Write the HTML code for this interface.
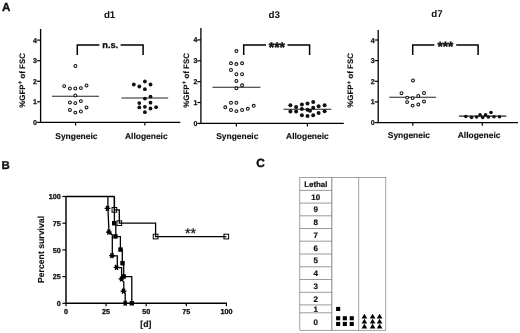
<!DOCTYPE html>
<html><head><meta charset="utf-8"><title>Figure</title>
<style>
html,body{margin:0;padding:0;background:#fff;}
body{width:520px;height:333px;overflow:hidden;font-family:"Liberation Sans",sans-serif;}
svg{display:block;filter:blur(0.3px);}
text{fill:#111;text-rendering:geometricPrecision;}
</style></head><body>
<svg width="520" height="333" viewBox="0 0 520 333">
<rect width="520" height="333" fill="#fff"/>
<path d="M40.6 29V122.4H180.3" fill="none" stroke="#000" stroke-width="1.3"/><path d="M37.1 122.4H40.6" stroke="#000" stroke-width="1.2"/><text x="37.0" y="124.9" text-anchor="end" font-size="7" font-weight="bold" stroke="#111" stroke-width="0.25" font-family="Liberation Sans, sans-serif">0</text><path d="M37.1 101.8H40.6" stroke="#000" stroke-width="1.2"/><text x="37.0" y="104.3" text-anchor="end" font-size="7" font-weight="bold" stroke="#111" stroke-width="0.25" font-family="Liberation Sans, sans-serif">1</text><path d="M37.1 81.3H40.6" stroke="#000" stroke-width="1.2"/><text x="37.0" y="83.8" text-anchor="end" font-size="7" font-weight="bold" stroke="#111" stroke-width="0.25" font-family="Liberation Sans, sans-serif">2</text><path d="M37.1 60.7H40.6" stroke="#000" stroke-width="1.2"/><text x="37.0" y="63.2" text-anchor="end" font-size="7" font-weight="bold" stroke="#111" stroke-width="0.25" font-family="Liberation Sans, sans-serif">3</text><path d="M37.1 40.1H40.6" stroke="#000" stroke-width="1.2"/><text x="37.0" y="42.6" text-anchor="end" font-size="7" font-weight="bold" stroke="#111" stroke-width="0.25" font-family="Liberation Sans, sans-serif">4</text><path d="M75.6 122.4V125.60000000000001" stroke="#000" stroke-width="1.2"/><path d="M144.9 122.4V125.60000000000001" stroke="#000" stroke-width="1.2"/><text x="76.4" y="139.1" text-anchor="middle" font-size="8.45" font-weight="bold" stroke="#111" stroke-width="0.15" font-family="Liberation Sans, sans-serif">Syngeneic</text><text x="146.3" y="139.1" text-anchor="middle" font-size="8.45" font-weight="bold" stroke="#111" stroke-width="0.15" font-family="Liberation Sans, sans-serif">Allogeneic</text><text x="109.6" y="18.2" text-anchor="middle" font-size="9.8" font-weight="bold" font-family="Liberation Sans, sans-serif">d1</text><text transform="translate(24.6 80.4) rotate(-90)" text-anchor="middle" font-size="7.9" font-weight="bold" stroke="#111" stroke-width="0.12" font-family="Liberation Sans, sans-serif">%GFP<tspan dy="-2.6" font-size="6.2">+</tspan><tspan dy="2.6"> of FSC</tspan></text><path d="M77.3 55V44.9H99.4M120.6 44.9H143.1V55" fill="none" stroke="#000" stroke-width="1.5"/><text x="110.2" y="47.7" text-anchor="middle" font-size="9.2" font-weight="bold" stroke="#111" stroke-width="0.3" font-family="Liberation Sans, sans-serif">n.s.</text><path d="M52 96.2H98.9" stroke="#222" stroke-width="1.1"/><circle cx="75.4" cy="66" r="1.45" fill="#fff" stroke="#111" stroke-width="1.05"/><circle cx="64.2" cy="86.1" r="1.45" fill="#fff" stroke="#111" stroke-width="1.05"/><circle cx="69.9" cy="88.5" r="1.45" fill="#fff" stroke="#111" stroke-width="1.05"/><circle cx="75.3" cy="88.5" r="1.45" fill="#fff" stroke="#111" stroke-width="1.05"/><circle cx="80.9" cy="88.1" r="1.45" fill="#fff" stroke="#111" stroke-width="1.05"/><circle cx="86.5" cy="85.4" r="1.45" fill="#fff" stroke="#111" stroke-width="1.05"/><circle cx="75.3" cy="95.5" r="1.45" fill="#fff" stroke="#111" stroke-width="1.05"/><circle cx="69.9" cy="102.4" r="1.45" fill="#fff" stroke="#111" stroke-width="1.05"/><circle cx="75.3" cy="103.1" r="1.45" fill="#fff" stroke="#111" stroke-width="1.05"/><circle cx="80.9" cy="101.1" r="1.45" fill="#fff" stroke="#111" stroke-width="1.05"/><circle cx="86.5" cy="107.4" r="1.45" fill="#fff" stroke="#111" stroke-width="1.05"/><circle cx="69.9" cy="109.9" r="1.45" fill="#fff" stroke="#111" stroke-width="1.05"/><circle cx="75.3" cy="112.6" r="1.45" fill="#fff" stroke="#111" stroke-width="1.05"/><circle cx="80.9" cy="111.5" r="1.45" fill="#fff" stroke="#111" stroke-width="1.05"/><path d="M121.4 98H168.2" stroke="#222" stroke-width="1.1"/><circle cx="133.8" cy="84.5" r="1.9" fill="#111"/><circle cx="139.3" cy="86.5" r="1.9" fill="#111"/><circle cx="144.9" cy="81.5" r="1.9" fill="#111"/><circle cx="150.5" cy="84.5" r="1.9" fill="#111"/><circle cx="144.9" cy="89.2" r="1.9" fill="#111"/><circle cx="144.9" cy="98.6" r="1.9" fill="#111"/><circle cx="150.5" cy="96.6" r="1.9" fill="#111"/><circle cx="139.3" cy="103.1" r="1.9" fill="#111"/><circle cx="150.5" cy="102.7" r="1.9" fill="#111"/><circle cx="139.3" cy="107.4" r="1.9" fill="#111"/><circle cx="144.9" cy="106.8" r="1.9" fill="#111"/><circle cx="150.5" cy="108.5" r="1.9" fill="#111"/><circle cx="156.1" cy="107.2" r="1.9" fill="#111"/><circle cx="144.9" cy="112.2" r="1.9" fill="#111"/><path d="M200.9 27.9V123.4H343.8" fill="none" stroke="#000" stroke-width="1.3"/><path d="M197.4 123.4H200.9" stroke="#000" stroke-width="1.2"/><text x="197.3" y="125.9" text-anchor="end" font-size="7" font-weight="bold" stroke="#111" stroke-width="0.25" font-family="Liberation Sans, sans-serif">0</text><path d="M197.4 102.5H200.9" stroke="#000" stroke-width="1.2"/><text x="197.3" y="105.0" text-anchor="end" font-size="7" font-weight="bold" stroke="#111" stroke-width="0.25" font-family="Liberation Sans, sans-serif">1</text><path d="M197.4 81.7H200.9" stroke="#000" stroke-width="1.2"/><text x="197.3" y="84.2" text-anchor="end" font-size="7" font-weight="bold" stroke="#111" stroke-width="0.25" font-family="Liberation Sans, sans-serif">2</text><path d="M197.4 60.8H200.9" stroke="#000" stroke-width="1.2"/><text x="197.3" y="63.3" text-anchor="end" font-size="7" font-weight="bold" stroke="#111" stroke-width="0.25" font-family="Liberation Sans, sans-serif">3</text><path d="M197.4 39.9H200.9" stroke="#000" stroke-width="1.2"/><text x="197.3" y="42.4" text-anchor="end" font-size="7" font-weight="bold" stroke="#111" stroke-width="0.25" font-family="Liberation Sans, sans-serif">4</text><path d="M236.4 123.4V126.60000000000001" stroke="#000" stroke-width="1.2"/><path d="M307.4 123.4V126.60000000000001" stroke="#000" stroke-width="1.2"/><text x="237.3" y="139.2" text-anchor="middle" font-size="8.45" font-weight="bold" stroke="#111" stroke-width="0.15" font-family="Liberation Sans, sans-serif">Syngeneic</text><text x="307.4" y="139.2" text-anchor="middle" font-size="8.45" font-weight="bold" stroke="#111" stroke-width="0.15" font-family="Liberation Sans, sans-serif">Allogeneic</text><text x="274.3" y="18.2" text-anchor="middle" font-size="9.8" font-weight="bold" font-family="Liberation Sans, sans-serif">d3</text><text transform="translate(188.5 80.4) rotate(-90)" text-anchor="middle" font-size="7.9" font-weight="bold" stroke="#111" stroke-width="0.12" font-family="Liberation Sans, sans-serif">%GFP<tspan dy="-2.6" font-size="6.2">+</tspan><tspan dy="2.6"> of FSC</tspan></text><path d="M243.7 55V44.9H266M287.5 44.9H309.6V55" fill="none" stroke="#000" stroke-width="1.5"/><text x="276.9" y="51.7" text-anchor="middle" font-size="13.9" font-weight="bold" stroke="#111" stroke-width="0.45" font-family="Liberation Sans, sans-serif">***</text><path d="M212.5 87.2H260.4" stroke="#222" stroke-width="1.1"/><circle cx="236.4" cy="51.1" r="1.45" fill="#fff" stroke="#111" stroke-width="1.05"/><circle cx="231" cy="63.3" r="1.45" fill="#fff" stroke="#111" stroke-width="1.05"/><circle cx="236.4" cy="64.1" r="1.45" fill="#fff" stroke="#111" stroke-width="1.05"/><circle cx="242.1" cy="63.3" r="1.45" fill="#fff" stroke="#111" stroke-width="1.05"/><circle cx="231" cy="70" r="1.45" fill="#fff" stroke="#111" stroke-width="1.05"/><circle cx="236.4" cy="74.2" r="1.45" fill="#fff" stroke="#111" stroke-width="1.05"/><circle cx="242.1" cy="74.2" r="1.45" fill="#fff" stroke="#111" stroke-width="1.05"/><circle cx="236.4" cy="80.9" r="1.45" fill="#fff" stroke="#111" stroke-width="1.05"/><circle cx="242.1" cy="85.3" r="1.45" fill="#fff" stroke="#111" stroke-width="1.05"/><circle cx="236.4" cy="88.3" r="1.45" fill="#fff" stroke="#111" stroke-width="1.05"/><circle cx="231" cy="102.7" r="1.45" fill="#fff" stroke="#111" stroke-width="1.05"/><circle cx="236.4" cy="102.7" r="1.45" fill="#fff" stroke="#111" stroke-width="1.05"/><circle cx="225.3" cy="107.3" r="1.45" fill="#fff" stroke="#111" stroke-width="1.05"/><circle cx="231" cy="110" r="1.45" fill="#fff" stroke="#111" stroke-width="1.05"/><circle cx="236.4" cy="111.1" r="1.45" fill="#fff" stroke="#111" stroke-width="1.05"/><circle cx="242.1" cy="110" r="1.45" fill="#fff" stroke="#111" stroke-width="1.05"/><circle cx="247.8" cy="108.8" r="1.45" fill="#fff" stroke="#111" stroke-width="1.05"/><circle cx="253.7" cy="105.8" r="1.45" fill="#fff" stroke="#111" stroke-width="1.05"/><path d="M283.5 109.3H331.3" stroke="#222" stroke-width="1.1"/><circle cx="290.4" cy="105.3" r="2.0" fill="#111"/><circle cx="296.1" cy="107.1" r="2.0" fill="#111"/><circle cx="301.9" cy="104.4" r="2.0" fill="#111"/><circle cx="307.5" cy="103.5" r="2.0" fill="#111"/><circle cx="313.2" cy="102.1" r="2.0" fill="#111"/><circle cx="318.6" cy="106.2" r="2.0" fill="#111"/><circle cx="324.6" cy="105.3" r="2.0" fill="#111"/><circle cx="313.2" cy="107.7" r="2.0" fill="#111"/><circle cx="301.9" cy="108.9" r="2.0" fill="#111"/><circle cx="307.5" cy="109.8" r="2.0" fill="#111"/><circle cx="310" cy="110.7" r="2.0" fill="#111"/><circle cx="290.4" cy="111.6" r="2.0" fill="#111"/><circle cx="296.1" cy="111.6" r="2.0" fill="#111"/><circle cx="324.6" cy="111.3" r="2.0" fill="#111"/><circle cx="318.6" cy="113" r="2.0" fill="#111"/><circle cx="301.9" cy="115.2" r="2.0" fill="#111"/><circle cx="307.5" cy="116.1" r="2.0" fill="#111"/><circle cx="313.2" cy="115.2" r="2.0" fill="#111"/><path d="M378.2 30V122.6H518" fill="none" stroke="#000" stroke-width="1.3"/><path d="M374.7 122.6H378.2" stroke="#000" stroke-width="1.2"/><text x="374.59999999999997" y="125.1" text-anchor="end" font-size="7" font-weight="bold" stroke="#111" stroke-width="0.25" font-family="Liberation Sans, sans-serif">0</text><path d="M374.7 101.9H378.2" stroke="#000" stroke-width="1.2"/><text x="374.59999999999997" y="104.4" text-anchor="end" font-size="7" font-weight="bold" stroke="#111" stroke-width="0.25" font-family="Liberation Sans, sans-serif">1</text><path d="M374.7 81.3H378.2" stroke="#000" stroke-width="1.2"/><text x="374.59999999999997" y="83.8" text-anchor="end" font-size="7" font-weight="bold" stroke="#111" stroke-width="0.25" font-family="Liberation Sans, sans-serif">2</text><path d="M374.7 60.6H378.2" stroke="#000" stroke-width="1.2"/><text x="374.59999999999997" y="63.1" text-anchor="end" font-size="7" font-weight="bold" stroke="#111" stroke-width="0.25" font-family="Liberation Sans, sans-serif">3</text><path d="M374.7 40.0H378.2" stroke="#000" stroke-width="1.2"/><text x="374.59999999999997" y="42.5" text-anchor="end" font-size="7" font-weight="bold" stroke="#111" stroke-width="0.25" font-family="Liberation Sans, sans-serif">4</text><path d="M412.8 122.6V125.8" stroke="#000" stroke-width="1.2"/><path d="M482.3 122.6V125.8" stroke="#000" stroke-width="1.2"/><text x="408.9" y="137.9" text-anchor="middle" font-size="8.45" font-weight="bold" stroke="#111" stroke-width="0.15" font-family="Liberation Sans, sans-serif">Syngeneic</text><text x="479.1" y="137.9" text-anchor="middle" font-size="8.45" font-weight="bold" stroke="#111" stroke-width="0.15" font-family="Liberation Sans, sans-serif">Allogeneic</text><text x="436.9" y="17" text-anchor="middle" font-size="9.8" font-weight="bold" font-family="Liberation Sans, sans-serif">d7</text><text transform="translate(353.1 80.4) rotate(-90)" text-anchor="middle" font-size="7.9" font-weight="bold" stroke="#111" stroke-width="0.12" font-family="Liberation Sans, sans-serif">%GFP<tspan dy="-2.6" font-size="6.2">+</tspan><tspan dy="2.6"> of FSC</tspan></text><path d="M412.7 55V44.9H434.4M456.2 44.9H478.1V55" fill="none" stroke="#000" stroke-width="1.5"/><text x="445.4" y="51.3" text-anchor="middle" font-size="13.6" font-weight="bold" stroke="#111" stroke-width="0.45" font-family="Liberation Sans, sans-serif">***</text><path d="M389.3 97.2H436.1" stroke="#222" stroke-width="1.1"/><circle cx="413" cy="80.4" r="1.45" fill="#fff" stroke="#111" stroke-width="1.05"/><circle cx="401.5" cy="93.2" r="1.45" fill="#fff" stroke="#111" stroke-width="1.05"/><circle cx="424" cy="93" r="1.45" fill="#fff" stroke="#111" stroke-width="1.05"/><circle cx="418.3" cy="96" r="1.45" fill="#fff" stroke="#111" stroke-width="1.05"/><circle cx="407.1" cy="97.6" r="1.45" fill="#fff" stroke="#111" stroke-width="1.05"/><circle cx="412.6" cy="98.1" r="1.45" fill="#fff" stroke="#111" stroke-width="1.05"/><circle cx="407.1" cy="102.1" r="1.45" fill="#fff" stroke="#111" stroke-width="1.05"/><circle cx="424" cy="101.4" r="1.45" fill="#fff" stroke="#111" stroke-width="1.05"/><circle cx="412.6" cy="105.6" r="1.45" fill="#fff" stroke="#111" stroke-width="1.05"/><circle cx="418.3" cy="104.4" r="1.45" fill="#fff" stroke="#111" stroke-width="1.05"/><path d="M458.9 116.1H506.3" stroke="#222" stroke-width="1.1"/><circle cx="465.8" cy="116.5" r="1.8" fill="#111"/><circle cx="471.5" cy="117.4" r="1.8" fill="#111"/><circle cx="476.6" cy="117" r="1.8" fill="#111"/><circle cx="480" cy="114.9" r="1.8" fill="#111"/><circle cx="482.7" cy="117.4" r="1.8" fill="#111"/><circle cx="485.6" cy="114.9" r="1.8" fill="#111"/><circle cx="488.3" cy="117" r="1.8" fill="#111"/><circle cx="491" cy="112.5" r="1.8" fill="#111"/><circle cx="494" cy="116.7" r="1.8" fill="#111"/><circle cx="499.5" cy="116.7" r="1.8" fill="#111"/><text x="2.1" y="11.4" font-size="11.6" font-weight="bold" stroke="#111" stroke-width="0.35" font-family="Liberation Sans, sans-serif">A</text><text x="1.4" y="169" font-size="11.4" font-weight="bold" stroke="#111" stroke-width="0.4" font-family="Liberation Sans, sans-serif">B</text><text x="256.3" y="166.9" font-size="11.9" font-weight="bold" stroke="#111" stroke-width="0.4" font-family="Liberation Sans, sans-serif">C</text><path d="M66.0 195.9V303.3H226.9" fill="none" stroke="#000" stroke-width="1.45"/><path d="M62.4 303.3H66.0" stroke="#000" stroke-width="1.2"/><text x="60.7" y="305.9" text-anchor="end" font-size="7.2" font-weight="bold" stroke="#111" stroke-width="0.3" font-family="Liberation Sans, sans-serif">0</text><path d="M62.4 276.6H66.0" stroke="#000" stroke-width="1.2"/><text x="60.7" y="279.2" text-anchor="end" font-size="7.2" font-weight="bold" stroke="#111" stroke-width="0.3" font-family="Liberation Sans, sans-serif">25</text><path d="M62.4 249.9H66.0" stroke="#000" stroke-width="1.2"/><text x="60.7" y="252.6" text-anchor="end" font-size="7.2" font-weight="bold" stroke="#111" stroke-width="0.3" font-family="Liberation Sans, sans-serif">50</text><path d="M62.4 223.2H66.0" stroke="#000" stroke-width="1.2"/><text x="60.7" y="225.8" text-anchor="end" font-size="7.2" font-weight="bold" stroke="#111" stroke-width="0.3" font-family="Liberation Sans, sans-serif">75</text><path d="M62.4 196.5H66.0" stroke="#000" stroke-width="1.2"/><text x="60.7" y="199.2" text-anchor="end" font-size="7.2" font-weight="bold" stroke="#111" stroke-width="0.3" font-family="Liberation Sans, sans-serif">100</text><path d="M66.0 303.3V306.3" stroke="#000" stroke-width="1.2"/><text x="66.0" y="314.4" text-anchor="middle" font-size="7.2" font-weight="bold" stroke="#111" stroke-width="0.3" font-family="Liberation Sans, sans-serif">0</text><path d="M106.1 303.3V306.3" stroke="#000" stroke-width="1.2"/><text x="106.1" y="314.4" text-anchor="middle" font-size="7.2" font-weight="bold" stroke="#111" stroke-width="0.3" font-family="Liberation Sans, sans-serif">25</text><path d="M146.2 303.3V306.3" stroke="#000" stroke-width="1.2"/><text x="146.2" y="314.4" text-anchor="middle" font-size="7.2" font-weight="bold" stroke="#111" stroke-width="0.3" font-family="Liberation Sans, sans-serif">50</text><path d="M186.3 303.3V306.3" stroke="#000" stroke-width="1.2"/><text x="186.3" y="314.4" text-anchor="middle" font-size="7.2" font-weight="bold" stroke="#111" stroke-width="0.3" font-family="Liberation Sans, sans-serif">75</text><path d="M226.4 303.3V306.3" stroke="#000" stroke-width="1.2"/><text x="226.4" y="314.4" text-anchor="middle" font-size="7.2" font-weight="bold" stroke="#111" stroke-width="0.3" font-family="Liberation Sans, sans-serif">100</text><text x="145.9" y="326.6" text-anchor="middle" font-size="8.7" font-weight="bold" stroke="#111" stroke-width="0.2" font-family="Liberation Sans, sans-serif">[d]</text><text transform="translate(44.3 249.5) rotate(-90)" text-anchor="middle" font-size="8.7" font-weight="bold" stroke="#111" stroke-width="0.15" font-family="Liberation Sans, sans-serif">Percent survival</text><path d="M66.0 196.5H114.4" stroke="#000" stroke-width="1.3" fill="none"/><path d="M114.4 196.5V209.8H119.3V223.2H155.6V236.6H226.3" stroke="#000" stroke-width="1.3" fill="none"/><path d="M114.4 196.5V223.2L115.8 225.3V236.6H120.4V249.9H122.3V263.2L123.7 265.9V276.6H131.8V303.3" stroke="#000" stroke-width="1.3" fill="none"/><path d="M107.9 196.5V208.4L109 232.1L112.3 234.9V255.9H117.3V267.7H121.6V279.6L123.8 281.9V291.4L125.2 293.2V303.3" stroke="#000" stroke-width="1.3" fill="none"/><rect x="112.05" y="207.50" width="4.7" height="4.7" fill="none" stroke="#000" stroke-width="1"/><rect x="116.95" y="220.85" width="4.7" height="4.7" fill="none" stroke="#000" stroke-width="1"/><rect x="153.25" y="234.20" width="4.7" height="4.7" fill="none" stroke="#000" stroke-width="1"/><rect x="223.95" y="234.20" width="4.7" height="4.7" fill="none" stroke="#000" stroke-width="1"/><rect x="112.00" y="221.00" width="4.4" height="4.4" fill="#000"/><rect x="113.20" y="234.24" width="4.4" height="4.4" fill="#000"/><rect x="118.30" y="247.38" width="4.4" height="4.4" fill="#000"/><rect x="120.30" y="260.94" width="4.4" height="4.4" fill="#000"/><rect x="121.50" y="274.19" width="4.4" height="4.4" fill="#000"/><rect x="129.60" y="301.10" width="4.4" height="4.4" fill="#000"/><path d="M104.60 208.35L110.40 208.35M106.05 205.84L108.95 210.87M108.95 205.84L106.05 210.87" stroke="#000" stroke-width="1.25" fill="none"/><circle cx="107.5" cy="208.35479999999998" r="1.85" fill="#000"/><path d="M106.00 232.06L111.80 232.06M107.45 229.55L110.35 234.58M110.35 229.55L107.45 234.58" stroke="#000" stroke-width="1.25" fill="none"/><circle cx="108.9" cy="232.06439999999998" r="1.85" fill="#000"/><path d="M109.10 255.67L114.90 255.67M110.55 253.16L113.45 258.18M113.45 253.16L110.55 258.18" stroke="#000" stroke-width="1.25" fill="none"/><circle cx="112" cy="255.6672" r="1.85" fill="#000"/><path d="M113.60 267.42L119.40 267.42M115.05 264.90L117.95 269.93M117.95 264.90L115.05 269.93" stroke="#000" stroke-width="1.25" fill="none"/><circle cx="116.5" cy="267.4152" r="1.85" fill="#000"/><path d="M118.60 278.95L124.40 278.95M120.05 276.44L122.95 281.46M122.95 276.44L120.05 281.46" stroke="#000" stroke-width="1.25" fill="none"/><circle cx="121.5" cy="278.94960000000003" r="1.85" fill="#000"/><path d="M120.60 291.12L126.40 291.12M122.05 288.61L124.95 293.64M124.95 288.61L122.05 293.64" stroke="#000" stroke-width="1.25" fill="none"/><circle cx="123.5" cy="291.1248" r="1.85" fill="#000"/><path d="M122.30 303.30L128.10 303.30M123.75 300.79L126.65 305.81M126.65 300.79L123.75 305.81" stroke="#000" stroke-width="1.25" fill="none"/><circle cx="125.2" cy="303.3" r="1.85" fill="#000"/><text x="190.5" y="237.8" text-anchor="middle" font-size="14" stroke="#111" stroke-width="0.3" font-family="Liberation Sans, sans-serif">**</text><rect x="299.8" y="177.6" width="86.0" height="152.70000000000002" fill="none" stroke="#7a7a7a" stroke-width="0.7"/><path d="M331.8 177.6V330.3" stroke="#606060" stroke-width="0.8"/><path d="M358.7 177.6V330.3" stroke="#7a7a7a" stroke-width="0.7"/><path d="M299.8 190.4H331.8" stroke="#7a7a7a" stroke-width="0.75"/><path d="M299.8 203.1H331.8" stroke="#7a7a7a" stroke-width="0.75"/><path d="M299.8 215.8H331.8" stroke="#7a7a7a" stroke-width="0.75"/><path d="M299.8 228.5H331.8" stroke="#7a7a7a" stroke-width="0.75"/><path d="M299.8 241.2H331.8" stroke="#7a7a7a" stroke-width="0.75"/><path d="M299.8 254.0H331.8" stroke="#7a7a7a" stroke-width="0.75"/><path d="M299.8 266.8H331.8" stroke="#7a7a7a" stroke-width="0.75"/><path d="M299.8 279.5H331.8" stroke="#7a7a7a" stroke-width="0.75"/><path d="M299.8 292.3H331.8" stroke="#7a7a7a" stroke-width="0.75"/><path d="M299.8 304.9H331.8" stroke="#7a7a7a" stroke-width="0.75"/><path d="M299.8 312.8H331.8" stroke="#7a7a7a" stroke-width="0.75"/><text x="315.8" y="186.9" text-anchor="middle" font-size="7.9" font-weight="bold" stroke="#111" stroke-width="0.2" font-family="Liberation Sans, sans-serif">Lethal</text><text x="315.8" y="199.7" text-anchor="middle" font-size="8.0" font-weight="bold" stroke="#111" stroke-width="0.2" font-family="Liberation Sans, sans-serif">10</text><text x="315.8" y="212.4" text-anchor="middle" font-size="8.0" font-weight="bold" stroke="#111" stroke-width="0.2" font-family="Liberation Sans, sans-serif">9</text><text x="315.8" y="225.1" text-anchor="middle" font-size="8.0" font-weight="bold" stroke="#111" stroke-width="0.2" font-family="Liberation Sans, sans-serif">8</text><text x="315.8" y="237.8" text-anchor="middle" font-size="8.0" font-weight="bold" stroke="#111" stroke-width="0.2" font-family="Liberation Sans, sans-serif">7</text><text x="315.8" y="250.5" text-anchor="middle" font-size="8.0" font-weight="bold" stroke="#111" stroke-width="0.2" font-family="Liberation Sans, sans-serif">6</text><text x="315.8" y="263.3" text-anchor="middle" font-size="8.0" font-weight="bold" stroke="#111" stroke-width="0.2" font-family="Liberation Sans, sans-serif">5</text><text x="315.8" y="276.1" text-anchor="middle" font-size="8.0" font-weight="bold" stroke="#111" stroke-width="0.2" font-family="Liberation Sans, sans-serif">4</text><text x="315.8" y="288.8" text-anchor="middle" font-size="8.0" font-weight="bold" stroke="#111" stroke-width="0.2" font-family="Liberation Sans, sans-serif">3</text><text x="315.8" y="301.6" text-anchor="middle" font-size="8.0" font-weight="bold" stroke="#111" stroke-width="0.2" font-family="Liberation Sans, sans-serif">2</text><text x="315.8" y="311.8" text-anchor="middle" font-size="8.0" font-weight="bold" stroke="#111" stroke-width="0.2" font-family="Liberation Sans, sans-serif">1</text><text x="315.8" y="324.5" text-anchor="middle" font-size="8.0" font-weight="bold" stroke="#111" stroke-width="0.2" font-family="Liberation Sans, sans-serif">0</text><rect x="336.1" y="306.9" width="4.1" height="4.1" fill="#000"/><rect x="336.1" y="316.2" width="4.1" height="4.1" fill="#000"/><rect x="336.1" y="321.9" width="4.1" height="4.1" fill="#000"/><rect x="342.8" y="316.2" width="4.1" height="4.1" fill="#000"/><rect x="342.8" y="321.9" width="4.1" height="4.1" fill="#000"/><rect x="349.7" y="316.2" width="4.1" height="4.1" fill="#000"/><rect x="349.7" y="321.9" width="4.1" height="4.1" fill="#000"/><path d="M364.4 313.7L367.2 318.5H361.59999999999997Z" fill="#000"/><path d="M364.4 318.7L367.2 323.5H361.59999999999997Z" fill="#000"/><path d="M364.4 323.6L367.2 328.40000000000003H361.59999999999997Z" fill="#000"/><path d="M372.6 313.7L375.40000000000003 318.5H369.8Z" fill="#000"/><path d="M372.6 318.7L375.40000000000003 323.5H369.8Z" fill="#000"/><path d="M372.6 323.6L375.40000000000003 328.40000000000003H369.8Z" fill="#000"/><path d="M379.6 313.7L382.40000000000003 318.5H376.8Z" fill="#000"/><path d="M379.6 318.7L382.40000000000003 323.5H376.8Z" fill="#000"/><path d="M379.6 323.6L382.40000000000003 328.40000000000003H376.8Z" fill="#000"/>
</svg>
</body></html>
